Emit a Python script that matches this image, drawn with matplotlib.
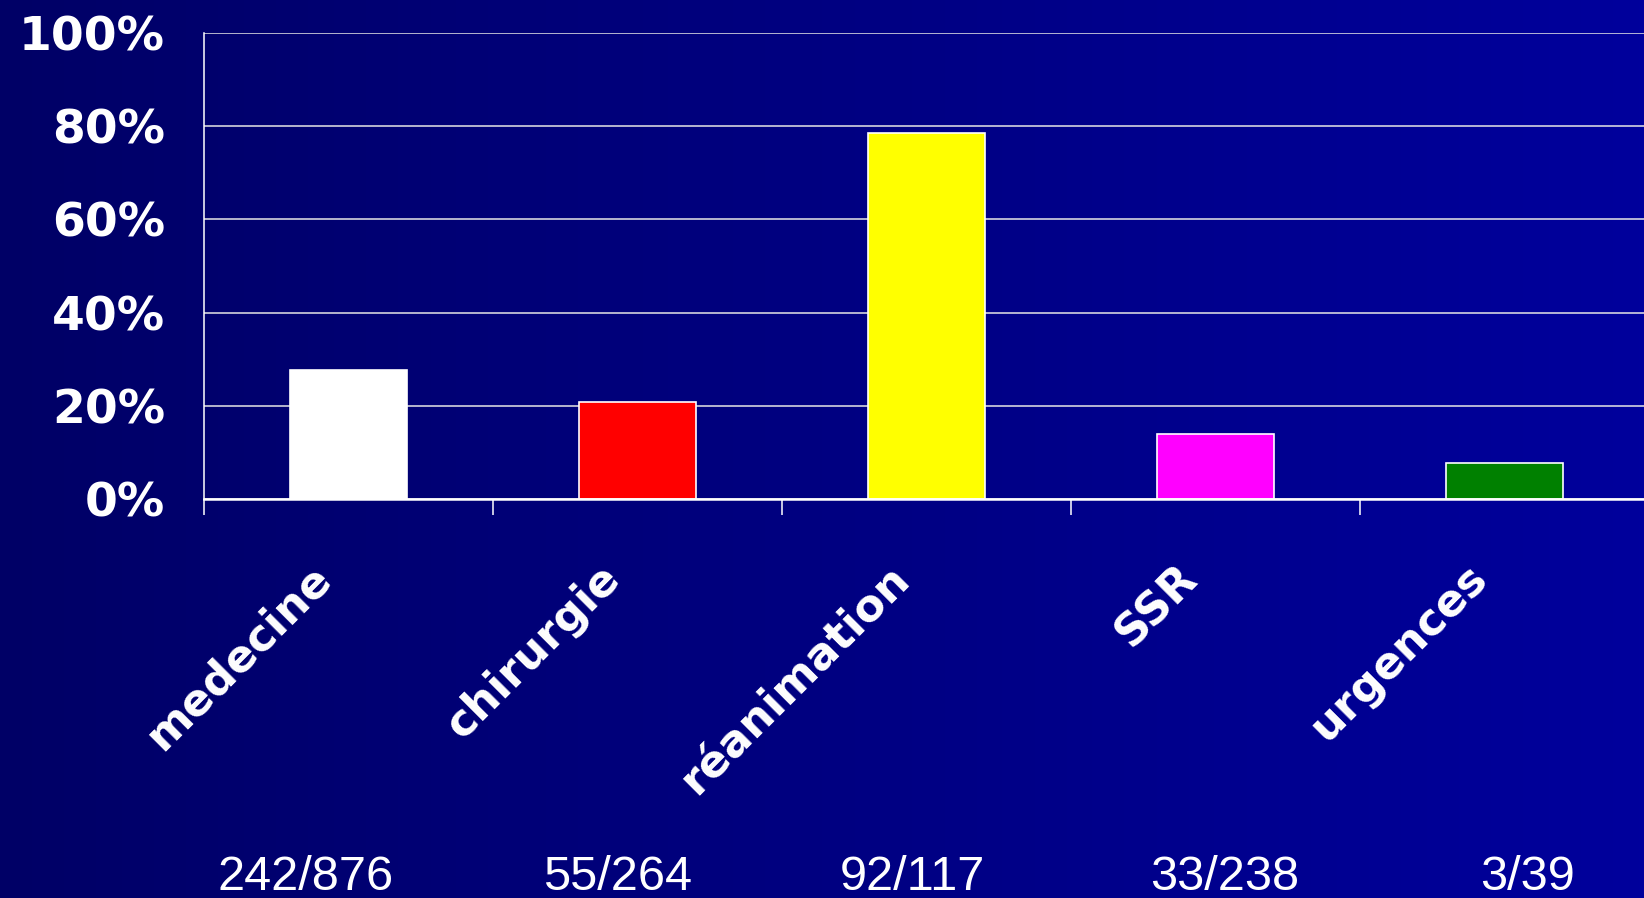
import matplotlib
matplotlib.use('Agg')
import matplotlib.pyplot as plt
import numpy as np

# values (share of positive cases per ward)
services = ['medecine', 'chirurgie', 'réanimation', 'SSR', 'urgences']
percents = [27.6, 20.8, 78.6, 13.9, 7.7]
counts = ['242/876', '55/264', '92/117', '33/238', '3/39']
bar_colors = ['#FFFFFF', '#FF0000', '#FFFF00', '#FF00FF', '#008000']
yticks = [0, 20, 40, 60, 80, 100]
ytick_labels = ['0%', '20%', '40%', '60%', '80%', '100%']

# where the count labels sit, shift from the category centre (in category units)
count_shift = [-0.15, -0.07, -0.05, 0.03, 0.08]


def plot_wards():
    fig = plt.figure(figsize=(16.44, 8.98), dpi=100)

    # background: horizontal gradient dark navy -> blue
    bg = fig.add_axes([0, 0, 1, 1], zorder=0)
    grad = np.linspace(0, 1, 256).reshape(1, -1)
    cmap = matplotlib.colors.LinearSegmentedColormap.from_list('bg', ['#000066', '#00009C'])
    bg.imshow(grad, aspect='auto', cmap=cmap, extent=[0, 1, 0, 1])
    bg.axis('off')

    ax1 = fig.add_axes([0.1241, 0.4443, 0.879, 0.5189], zorder=1)
    ax1.patch.set_alpha(0)

    x = np.arange(len(services))
    ax1.bar(x, percents, width=0.405, color=bar_colors, edgecolor='white',
            linewidth=1.2, zorder=3)

    ax1.set_xlim(-0.5, len(services) - 0.5)
    ax1.set_ylim(0, 100)

    ax1.set_yticks(yticks)
    ax1.set_yticklabels(ytick_labels, fontsize=34, fontweight='bold', color='white',
                        family='DejaVu Sans')
    ax1.tick_params(axis='y', length=0, pad=28)
    ax1.grid(axis='y', color='#E6E6E6', linewidth=1.1, zorder=1)

    ax1.set_xticks(np.arange(-0.5, len(services), 1.0))
    ax1.set_xticklabels([])
    ax1.tick_params(axis='x', direction='out', length=11.5, width=1.1, color='white')

    for s in ['top', 'right']:
        ax1.spines[s].set_visible(False)
    ax1.spines['left'].set_color('white')
    ax1.spines['left'].set_linewidth(1.1)
    ax1.spines['bottom'].set_color('white')
    ax1.spines['bottom'].set_linewidth(1.8)
    ax1.spines['bottom'].set_zorder(4)

    trans = ax1.get_xaxis_transform()
    for i, name in enumerate(services):
        ax1.text(i - 0.085, -0.155, name, transform=trans, rotation=45,
                 rotation_mode='anchor', ha='right', va='center',
                 fontsize=32, fontweight='bold', color='white', family='DejaVu Sans')

    for i, c in enumerate(counts):
        ax1.text(i + count_shift[i], -0.812, c, transform=trans, ha='center',
                 va='center', fontsize=35, color='white', family='Liberation Sans')

    fig.savefig('out.png', dpi=100)


if __name__ == '__main__':
    plot_wards()
